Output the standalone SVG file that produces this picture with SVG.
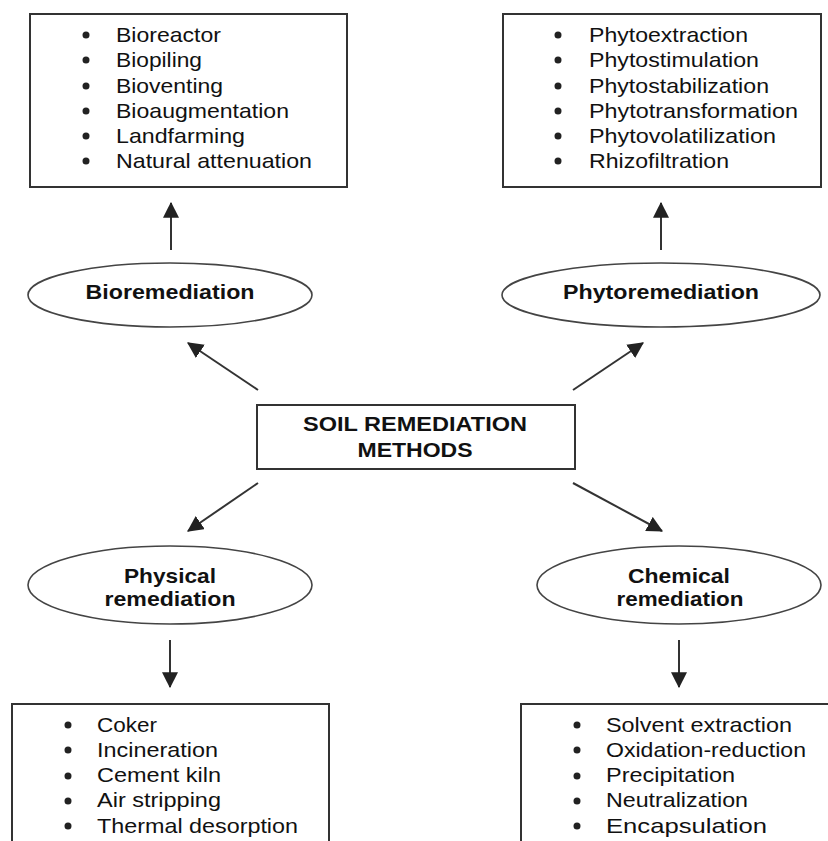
<svg xmlns="http://www.w3.org/2000/svg" width="828" height="841" viewBox="0 0 828 841">
<style>
.box{fill:#fff;stroke:#333;stroke-width:2}
.ell{fill:#fff;stroke:#444;stroke-width:1.6}
.item{font-family:"Liberation Sans",Arial,sans-serif;font-size:21px;fill:#111}
.lbl{font-family:"Liberation Sans",Arial,sans-serif;font-size:21px;font-weight:bold;fill:#111;text-anchor:middle}
.dot{fill:#222}
.conn{stroke:#333;stroke-width:2;fill:none;marker-end:url(#ah)}
</style>
<defs>
<marker id="ah" markerUnits="userSpaceOnUse" markerWidth="16" markerHeight="16" viewBox="0 0 14 14" refX="13" refY="7" orient="auto">
<path d="M0,0 L14,7 L0,14 Z" fill="#222"/>
</marker>
</defs>
<rect width="828" height="841" fill="#fff"/>

<g id="connectors">
<line class="conn" x1="171" y1="250" x2="171" y2="203"/>
<line class="conn" x1="661" y1="250" x2="661" y2="203"/>
<line class="conn" x1="258" y1="390" x2="188" y2="343"/>
<line class="conn" x1="573" y1="390" x2="643" y2="343"/>
<line class="conn" x1="258" y1="483" x2="188" y2="531"/>
<line class="conn" x1="573" y1="483" x2="662" y2="531"/>
<line class="conn" x1="170" y1="640" x2="170" y2="687"/>
<line class="conn" x1="679" y1="640" x2="679" y2="687"/>
</g>

<g id="bio-list">
<rect class="box" x="30" y="14" width="317" height="173"/>
<circle class="dot" cx="86" cy="35" r="3.5"/>
<circle class="dot" cx="86" cy="60" r="3.5"/>
<circle class="dot" cx="86" cy="86" r="3.5"/>
<circle class="dot" cx="86" cy="111" r="3.5"/>
<circle class="dot" cx="86" cy="136" r="3.5"/>
<circle class="dot" cx="86" cy="161" r="3.5"/>
<text class="item" x="116" y="42" textLength="105" lengthAdjust="spacingAndGlyphs">Bioreactor</text>
<text class="item" x="116" y="67" textLength="86" lengthAdjust="spacingAndGlyphs">Biopiling</text>
<text class="item" x="116" y="93" textLength="107" lengthAdjust="spacingAndGlyphs">Bioventing</text>
<text class="item" x="116" y="118" textLength="173" lengthAdjust="spacingAndGlyphs">Bioaugmentation</text>
<text class="item" x="116" y="143" textLength="129" lengthAdjust="spacingAndGlyphs">Landfarming</text>
<text class="item" x="116" y="168" textLength="196" lengthAdjust="spacingAndGlyphs">Natural attenuation</text>
</g>

<g id="phyto-list">
<rect class="box" x="503" y="14" width="318" height="173"/>
<circle class="dot" cx="558" cy="35" r="3.5"/>
<circle class="dot" cx="558" cy="60" r="3.5"/>
<circle class="dot" cx="558" cy="86" r="3.5"/>
<circle class="dot" cx="558" cy="111" r="3.5"/>
<circle class="dot" cx="558" cy="136" r="3.5"/>
<circle class="dot" cx="558" cy="161" r="3.5"/>
<text class="item" x="589" y="42" textLength="159" lengthAdjust="spacingAndGlyphs">Phytoextraction</text>
<text class="item" x="589" y="67" textLength="170" lengthAdjust="spacingAndGlyphs">Phytostimulation</text>
<text class="item" x="589" y="93" textLength="180" lengthAdjust="spacingAndGlyphs">Phytostabilization</text>
<text class="item" x="589" y="118" textLength="209" lengthAdjust="spacingAndGlyphs">Phytotransformation</text>
<text class="item" x="589" y="143" textLength="187" lengthAdjust="spacingAndGlyphs">Phytovolatilization</text>
<text class="item" x="589" y="168" textLength="140" lengthAdjust="spacingAndGlyphs">Rhizofiltration</text>
</g>

<g id="bioremediation">
<ellipse class="ell" cx="170" cy="295" rx="142" ry="32"/>
<text class="lbl" x="170" y="299" textLength="169" lengthAdjust="spacingAndGlyphs">Bioremediation</text>
</g>

<g id="phytoremediation">
<ellipse class="ell" cx="661" cy="295" rx="159" ry="32"/>
<text class="lbl" x="661" y="299" textLength="196" lengthAdjust="spacingAndGlyphs">Phytoremediation</text>
</g>

<g id="soil-remediation-methods">
<rect class="box" x="257" y="405" width="318" height="64"/>
<text class="lbl" x="415" y="431" textLength="224" lengthAdjust="spacingAndGlyphs">SOIL REMEDIATION</text>
<text class="lbl" x="415" y="457" textLength="115" lengthAdjust="spacingAndGlyphs">METHODS</text>
</g>

<g id="physical-remediation">
<ellipse class="ell" cx="170" cy="585" rx="142" ry="39"/>
<text class="lbl" x="170" y="583" textLength="92" lengthAdjust="spacingAndGlyphs">Physical</text>
<text class="lbl" x="170" y="606" textLength="131" lengthAdjust="spacingAndGlyphs">remediation</text>
</g>

<g id="chemical-remediation">
<ellipse class="ell" cx="679" cy="585" rx="142" ry="39"/>
<text class="lbl" x="679" y="583" textLength="102" lengthAdjust="spacingAndGlyphs">Chemical</text>
<text class="lbl" x="680" y="606" textLength="127" lengthAdjust="spacingAndGlyphs">remediation</text>
</g>

<g id="physical-list">
<rect class="box" x="12" y="704" width="317" height="160"/>
<circle class="dot" cx="68" cy="725" r="3.5"/>
<circle class="dot" cx="68" cy="750" r="3.5"/>
<circle class="dot" cx="68" cy="776" r="3.5"/>
<circle class="dot" cx="68" cy="801" r="3.5"/>
<circle class="dot" cx="68" cy="826" r="3.5"/>
<text class="item" x="97" y="732" textLength="60" lengthAdjust="spacingAndGlyphs">Coker</text>
<text class="item" x="97" y="757" textLength="121" lengthAdjust="spacingAndGlyphs">Incineration</text>
<text class="item" x="97" y="782" textLength="124" lengthAdjust="spacingAndGlyphs">Cement kiln</text>
<text class="item" x="97" y="807" textLength="124" lengthAdjust="spacingAndGlyphs">Air stripping</text>
<text class="item" x="97" y="833" textLength="201" lengthAdjust="spacingAndGlyphs">Thermal desorption</text>
</g>

<g id="chemical-list">
<rect class="box" x="521" y="704" width="330" height="160"/>
<circle class="dot" cx="577" cy="725" r="3.5"/>
<circle class="dot" cx="577" cy="750" r="3.5"/>
<circle class="dot" cx="577" cy="776" r="3.5"/>
<circle class="dot" cx="577" cy="801" r="3.5"/>
<circle class="dot" cx="577" cy="826" r="3.5"/>
<text class="item" x="606" y="732" textLength="186" lengthAdjust="spacingAndGlyphs">Solvent extraction</text>
<text class="item" x="606" y="757" textLength="200" lengthAdjust="spacingAndGlyphs">Oxidation-reduction</text>
<text class="item" x="606" y="782" textLength="129" lengthAdjust="spacingAndGlyphs">Precipitation</text>
<text class="item" x="606" y="807" textLength="142" lengthAdjust="spacingAndGlyphs">Neutralization</text>
<text class="item" x="606" y="833" textLength="161" lengthAdjust="spacingAndGlyphs">Encapsulation</text>
</g>
</svg>
